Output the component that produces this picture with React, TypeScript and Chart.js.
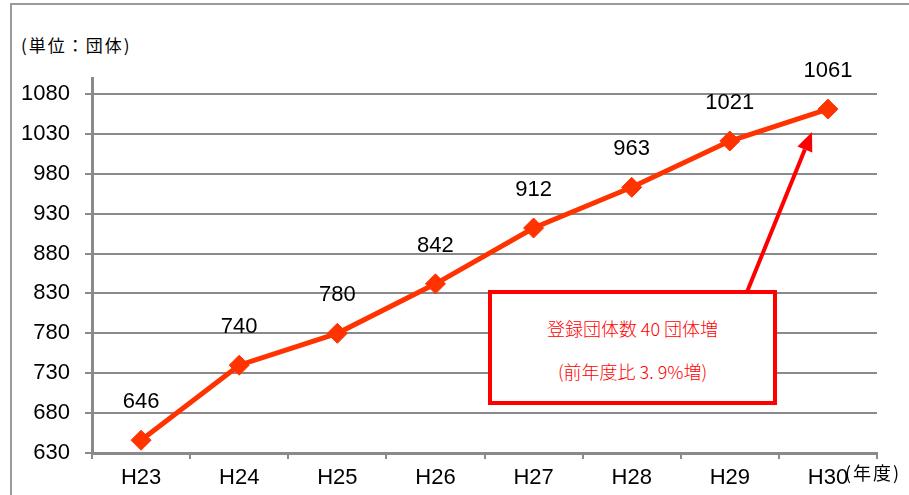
import React, { useEffect, useRef } from "react";
import { Chart, registerables } from "chart.js";

Chart.register(...registerables);

const categories = ["H23", "H24", "H25", "H26", "H27", "H28", "H29", "H30"];
const groupCounts = [646, 740, 780, 842, 912, 963, 1021, 1061];
const yTicks = [630, 680, 730, 780, 830, 880, 930, 980, 1030, 1080];
const yMin = 630;
const yMax = 1100;
const unitLabel = "(単位：団体)";
const yearLabel = "(年度)";
const noteLine1 = "登録団体数 40 団体増";
const noteLine2 = "(前年度比 3. 9%増)";

const LINE_COLOR = "#FF3300";
const GRID_COLOR = "#8a8a8a";

const valueLabelPlugin = {
  id: "valueLabels",
  afterDatasetsDraw(chart: any) {
    const ctx = chart.ctx;
    const meta = chart.getDatasetMeta(0);
    ctx.save();
    ctx.font = "22px 'Liberation Sans', Arial, sans-serif";
    ctx.fillStyle = "#000";
    ctx.textAlign = "center";
    ctx.textBaseline = "middle";
    meta.data.forEach((pt: any, i: number) => {
      ctx.fillText(String(groupCounts[i]), pt.x, pt.y - 38);
    });
    ctx.restore();
  },
};

const arrowPlugin = {
  id: "noteArrow",
  afterDraw(chart: any) {
    const ctx = chart.ctx;
    const x0 = 747, y0 = 292, x1 = 812, y1 = 132;
    const ang = Math.atan2(y1 - y0, x1 - x0);
    const headLen = 19, headW = 8;
    const bx = x1 - headLen * Math.cos(ang);
    const by = y1 - headLen * Math.sin(ang);
    ctx.save();
    ctx.strokeStyle = "#FF0000";
    ctx.fillStyle = "#FF0000";
    ctx.lineWidth = 4;
    ctx.beginPath();
    ctx.moveTo(x0, y0);
    ctx.lineTo(bx, by);
    ctx.stroke();
    ctx.beginPath();
    ctx.moveTo(x1, y1);
    ctx.lineTo(bx + headW * Math.sin(ang), by - headW * Math.cos(ang));
    ctx.lineTo(bx - headW * Math.sin(ang), by + headW * Math.cos(ang));
    ctx.closePath();
    ctx.fill();
    ctx.restore();
  },
};

export default function App() {
  const canvasRef = useRef<HTMLCanvasElement | null>(null);

  useEffect(() => {
    if (!canvasRef.current) return;
    const chart = new Chart(canvasRef.current, {
      type: "line",
      data: {
        labels: categories,
        datasets: [
          {
            data: groupCounts,
            borderColor: LINE_COLOR,
            backgroundColor: LINE_COLOR,
            borderWidth: 5,
            pointStyle: "rectRot",
            pointRadius: 10,
            pointBorderWidth: 1,
            pointBackgroundColor: LINE_COLOR,
            pointBorderColor: LINE_COLOR,
            tension: 0,
          },
        ],
      },
      options: {
        animation: false,
        responsive: false,
        devicePixelRatio: 1,
        layout: { padding: { top: 78, right: 32, left: 0, bottom: 0 } },
        plugins: { legend: { display: false }, tooltip: { enabled: false } },
        scales: {
          x: {
            type: "category",
            offset: true,
            grid: {
              offset: true,
              drawOnChartArea: false,
              drawTicks: true,
              tickLength: 6,
              color: GRID_COLOR,
              lineWidth: 2,
            },
            border: { display: true, color: GRID_COLOR, width: 3 },
            ticks: {
              color: "#000",
              padding: 6,
              font: { family: "'Liberation Sans', Arial, sans-serif", size: 22 },
              maxRotation: 0,
            },
            afterFit(scale: any) {
              scale.height = 42;
            },
          },
          y: {
            min: yMin,
            max: yMax,
            grid: {
              color: GRID_COLOR,
              lineWidth: 2,
              tickLength: 7,
              drawTicks: true,
            },
            border: { display: true, color: GRID_COLOR, width: 3 },
            ticks: {
              color: "#000",
              padding: 15,
              font: { family: "'Liberation Sans', Arial, sans-serif", size: 22 },
              callback: (v: any) => String(v),
            },
            afterBuildTicks(scale: any) {
              scale.ticks = yTicks.map((v) => ({ value: v }));
            },
            afterFit(scale: any) {
              scale.width = 92;
            },
          },
        },
      },
      plugins: [valueLabelPlugin, arrowPlugin],
    });
    return () => chart.destroy();
  }, []);

  return (
    <div
      style={{
        position: "fixed",
        left: 0,
        top: 0,
        width: 909,
        height: 495,
        overflow: "hidden",
        background: "#fff",
      }}
    >
      <div
        style={{
          position: "absolute",
          left: 10,
          top: 3,
          width: 1000,
          height: 600,
          border: "2px solid #9a9a9a",
        }}
      />
      <div
        style={{
          position: "absolute",
          left: 21,
          top: 32,
          fontFamily: "'Noto Sans CJK JP', sans-serif",
          fontSize: 17,
          color: "#000",
          whiteSpace: "nowrap",
          letterSpacing: 2,
        }}
      >
        {unitLabel}
      </div>
      <canvas
        ref={canvasRef}
        width={909}
        height={495}
        style={{ position: "absolute", left: 0, top: 0, width: 909, height: 495 }}
      />
      <div
        style={{
          position: "absolute",
          left: 845,
          top: 459,
          fontFamily: "'Noto Sans CJK JP', sans-serif",
          fontSize: 18,
          color: "#000",
          whiteSpace: "nowrap",
          letterSpacing: 2,
        }}
      >
        {yearLabel}
      </div>
      <div
        style={{
          position: "absolute",
          left: 488,
          top: 290,
          width: 289,
          height: 115,
          boxSizing: "border-box",
          border: "4px solid #FF0000",
          background: "#fff",
          color: "#FF0000",
          fontFamily: "'Noto Sans CJK JP', sans-serif",
          fontWeight: 300,
          fontSize: 18,
          textAlign: "center",
          whiteSpace: "nowrap",
        }}
      >
        <div style={{ position: "absolute", left: 0, right: 0, top: 21, lineHeight: "26px" }}>
          {noteLine1}
        </div>
        <div style={{ position: "absolute", left: 0, right: 0, top: 64, lineHeight: "26px" }}>
          {noteLine2}
        </div>
      </div>
    </div>
  );
}
